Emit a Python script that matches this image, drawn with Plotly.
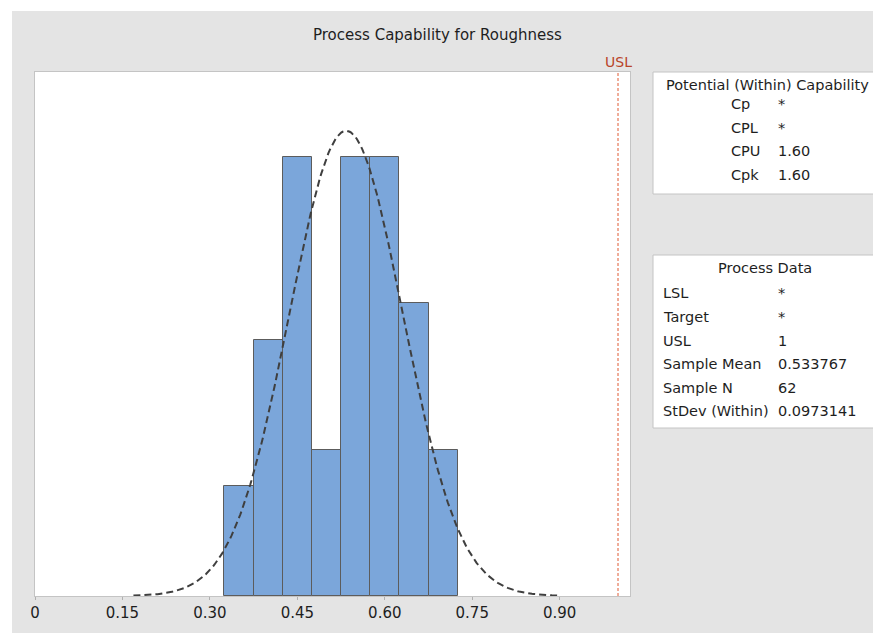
import numpy as np
import plotly.graph_objects as go

# ---- data ----
bin_edges = [0.325, 0.375, 0.425, 0.475, 0.525, 0.575, 0.625, 0.675, 0.725]
bin_counts = [3, 7, 12, 4, 12, 12, 8, 4]
x_tick_vals = [0, 0.15, 0.30, 0.45, 0.60, 0.75, 0.90]
x_tick_text = ["0", "0.15", "0.30", "0.45", "0.60", "0.75", "0.90"]
usl_value = 1.0
sample_mean = 0.533767
stdev_within = 0.0973141
sample_n = 62

cap_labels = ["Cp", "CPL", "CPU", "Cpk"]
cap_values = ["*", "*", "1.60", "1.60"]
proc_labels = ["LSL", "Target", "USL", "Sample Mean", "Sample N", "StDev (Within)"]
proc_values = ["*", "*", "1", "0.533767", "62", "0.0973141"]

title_text = "Process Capability for Roughness"

# ---- derived ----
edges = np.array(bin_edges)
centers = (edges[:-1] + edges[1:]) / 2
bw = edges[1] - edges[0]
xc = np.linspace(sample_mean - 3.75 * stdev_within, sample_mean + 3.75 * stdev_within, 300)
yc = sample_n * bw * np.exp(-0.5 * ((xc - sample_mean) / stdev_within) ** 2) / (stdev_within * np.sqrt(2 * np.pi))

OFF = 8  # page body margin
W, H = 881 - OFF, 633 - OFF
L, R, T, B = 35, 630, 72, 596  # screen coords of plot area
FONT = "DejaVu Sans, Verdana, sans-serif"
TXT = "#1e1e1e"


def px(x):
    return (x - L) / (R - L)


def py(y):
    return (B - y) / (B - T)


fig = go.Figure()
fig.add_trace(go.Bar(x=centers, y=bin_counts, width=bw,
                     marker=dict(color="#7ba6da", line=dict(color="#5c5c5c", width=1)),
                     hoverinfo="x+y", showlegend=False))
fig.add_trace(go.Scatter(x=xc, y=yc, mode="lines",
                         line=dict(color="#3f3f3f", width=2, dash="7px,4px"),
                         showlegend=False, hoverinfo="skip"))

shapes = []
shapes.append(dict(type="rect", xref="paper", yref="paper", x0=px(12), x1=px(900), y0=py(650), y1=py(11),
                   fillcolor="#e4e4e4", line=dict(width=0), layer="below"))
shapes.append(dict(type="rect", xref="paper", yref="paper", x0=0, x1=1, y0=0, y1=1,
                   fillcolor="white", line=dict(width=0), layer="below"))
shapes.append(dict(type="line", xref="x", yref="paper", x0=usl_value, x1=usl_value, y0=0, y1=1,
                   line=dict(color="#e05a35", width=1, dash="3px,2px")))
shapes.append(dict(type="rect", xref="paper", yref="paper", x0=px(653), x1=px(880), y0=py(194), y1=py(72),
                   fillcolor="white", line=dict(color="#c4c4c4", width=1)))
shapes.append(dict(type="rect", xref="paper", yref="paper", x0=px(653), x1=px(878), y0=py(428), y1=py(255),
                   fillcolor="white", line=dict(color="#c4c4c4", width=1)))

FS = 14.5
ann = []
ann.append(dict(text=title_text, xref="paper", yref="paper", x=px(437), y=py(35), showarrow=False,
                xanchor="center", yanchor="middle", font=dict(size=15, color=TXT, family=FONT)))
ann.append(dict(text="USL", xref="x", yref="paper", x=usl_value, y=py(62), showarrow=False,
                xanchor="center", yanchor="middle", font=dict(size=14, color="#b9452b", family=FONT)))
ann.append(dict(text="Potential (Within) Capability", xref="paper", yref="paper", x=px(767), y=py(85),
                showarrow=False, xanchor="center", yanchor="middle", font=dict(size=FS, color=TXT, family=FONT)))
cap_y = [104, 128, 151, 175]
for lab, val, yy in zip(cap_labels, cap_values, cap_y):
    ann.append(dict(text=lab, xref="paper", yref="paper", x=px(729), y=py(yy), showarrow=False,
                    xanchor="left", yanchor="middle", font=dict(size=FS, color=TXT, family=FONT)))
    ann.append(dict(text=val, xref="paper", yref="paper", x=px(776), y=py(yy), showarrow=False,
                    xanchor="left", yanchor="middle", font=dict(size=FS, color=TXT, family=FONT)))
ann.append(dict(text="Process Data", xref="paper", yref="paper", x=px(765), y=py(268),
                showarrow=False, xanchor="center", yanchor="middle", font=dict(size=FS, color=TXT, family=FONT)))
proc_y = [293, 317, 341, 364, 388, 411]
for lab, val, yy in zip(proc_labels, proc_values, proc_y):
    ann.append(dict(text=lab, xref="paper", yref="paper", x=px(661), y=py(yy), showarrow=False,
                    xanchor="left", yanchor="middle", font=dict(size=FS, color=TXT, family=FONT)))
    ann.append(dict(text=val, xref="paper", yref="paper", x=px(776), y=py(yy), showarrow=False,
                    xanchor="left", yanchor="middle", font=dict(size=FS, color=TXT, family=FONT)))

fig.update_layout(
    width=W, height=H,
    margin=dict(l=L - OFF, r=W - (R - OFF), t=T - OFF, b=H - (B - OFF), pad=0),
    paper_bgcolor="white", plot_bgcolor="white",
    bargap=0, showlegend=False,
    shapes=shapes, annotations=ann,
    font=dict(family=FONT, size=14, color=TXT),
    xaxis=dict(range=[0, (R - L) / 583.0], tickvals=x_tick_vals, ticktext=x_tick_text,
               showgrid=False, zeroline=False, showline=True, mirror=True, linecolor="#c4c4c4",
               ticks="outside", ticklen=3, tickcolor="#b0b0b0",
               tickfont=dict(size=15, color=TXT, family=FONT)),
    yaxis=dict(range=[0, (B - T) / 36.6], showticklabels=False, ticks="", showgrid=False, zeroline=False,
               showline=True, mirror=True, linecolor="#c4c4c4"),
)

fig.write_html("out.html")
